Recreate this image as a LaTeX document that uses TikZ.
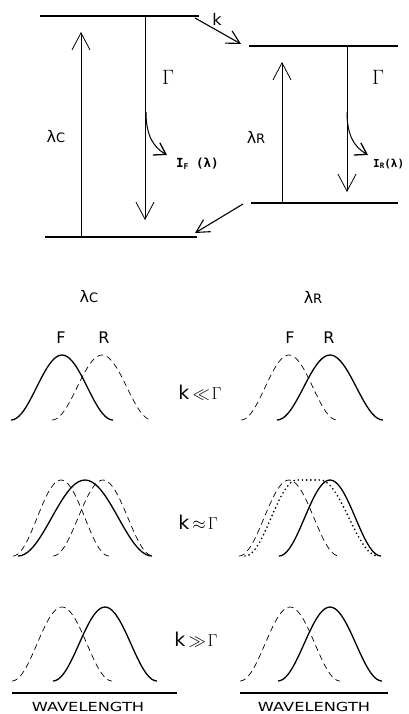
\documentclass[tikz,border=0pt]{standalone}
\usepackage{fontspec}
\setmainfont{DejaVu Sans}
\setmonofont{DejaVu Sans Mono}
\usetikzlibrary{arrows.meta}
\newcommand\bellcurve[5]{\draw[#1] plot[domain=-#3:#3, samples=41, smooth] ({#2+\x},{#4-#5*(1+cos(180*\x/#3))/2});}
\begin{document}
\begin{tikzpicture}[x=1pt,y=-1pt,
  level/.style={line width=1.5pt},
  trans/.style={line width=0.8pt,-{Straight Barb[length=17pt,width=18pt,line width=0.8pt]}},
  kin/.style={line width=1.1pt,-{Straight Barb[length=13pt,width=14pt,line width=1.1pt]}},
  emis/.style={line width=1pt,-{Straight Barb[length=11pt,width=14pt,line width=1.3pt]}},
  lbl/.style={font=\fontsize{16}{16}\selectfont, inner sep=0pt},
  gam/.style={font=\fontsize{21}{21}\selectfont, inner sep=0pt},
  rel/.style={font=\fontsize{19}{19}\selectfont, inner sep=0pt},
  intens/.style={font=\ttfamily\bfseries\fontsize{12.5}{12.5}\selectfont, inner sep=0pt, anchor=west},
  wl/.style={font=\fontsize{12.5}{12.5}\selectfont, inner sep=0pt},
  solidc/.style={line width=1.3pt},
  dashc/.style={line width=0.7pt, dash pattern=on 6pt off 4pt},
  dotc/.style={line width=1.9pt, line cap=round, dash pattern=on 0pt off 4.2pt},
  axis/.style={line width=1.2pt}]
\useasboundingbox (0,0) rectangle (408,714);
% ---- energy levels
\coordinate (LUa) at (40,16); \coordinate (LUb) at (199,16);
\coordinate (LLa) at (45,237); \coordinate (LLb) at (197,237);
\coordinate (RUa) at (249,46); \coordinate (RUb) at (398,46);
\coordinate (RLa) at (251,203); \coordinate (RLb) at (398,203);
\draw[level] (LUa) -- (LUb);
\draw[level] (LLa) -- (LLb);
\draw[level] (RUa) -- (RUb);
\draw[level] (RLa) -- (RLb);
% transitions
\coordinate (a1s) at (81,237); \coordinate (a1e) at (81,32);
\coordinate (a2s) at (145,16); \coordinate (a2e) at (145,220);
\coordinate (a3s) at (282,203); \coordinate (a3e) at (282,62);
\coordinate (a4s) at (347,46); \coordinate (a4e) at (347,192);
\draw[trans] (a1s) -- (a1e);
\draw[trans] (a2s) -- (a2e);
\draw[trans] (a3s) -- (a3e);
\draw[trans] (a4s) -- (a4e);
% k transfers
\coordinate (k1s) at (195,18); \coordinate (k1e) at (241,44);
\coordinate (k2s) at (243,204); \coordinate (k2e) at (195,233);
\draw[kin] (k1s) -- (k1e);
\draw[kin] (k2s) -- (k2e);
% emission curls
\coordinate (e1s) at (146,112); \coordinate (e1e) at (167,155);
\coordinate (e2s) at (347,112); \coordinate (e2e) at (368,155);
\draw[emis] (e1s) .. controls (146,135) and (153,147) .. (e1e);
\draw[emis] (e2s) .. controls (347,135) and (354,147) .. (e2e);
% labels top
\node[lbl] (klab) at (217,19) {k};
\node[gam] (g1) at (168,77) {$\Gamma$};
\node[gam] (g2) at (378,77) {$\Gamma$};
\node[lbl] (lc1) at (56,137) {λ{\fontsize{13}{13}\selectfont C}};
\node[lbl] (lr1) at (256,137) {λ{\fontsize{13}{13}\selectfont R}};
\node[intens] (if) at (176,164) {I{\fontsize{8}{8}\selectfont\raisebox{-1.5pt}{F}} (λ)};
\node[intens, font=\ttfamily\bfseries\fontsize{11}{11}\selectfont] (ir) at (373,164) {I{\fontsize{7.5}{7.5}\selectfont\raisebox{-1.5pt}{R}}(λ)};
% ---- spectra labels
\node[lbl] (lc2) at (89,297) {λ{\fontsize{13}{13}\selectfont C}};
\node[lbl] (lr2) at (313,297) {λ{\fontsize{13}{13}\selectfont R}};
\node[lbl] (F1) at (61,338) {F};
\node[lbl] (R1) at (104,338) {R};
\node[lbl] (F2) at (290,338) {F};
\node[lbl] (R2) at (329,338) {R};
\node[rel] (r1) at (200,393) {k\,$\ll\!\Gamma$};
\node[rel] (r2) at (198,522) {k\,$\approx\!\Gamma$};
\node[rel] (r3) at (196,640) {k\,$\gg\!\Gamma$};
% row 1
\bellcurve{solidc}{62}{51}{420}{65}
\bellcurve{dashc}{102}{50}{420}{65}
\bellcurve{dashc}{289}{48}{420}{65}
\bellcurve{solidc}{330}{53}{420}{65}
% row 2
\bellcurve{dashc}{61}{48}{556}{76}
\bellcurve{dashc}{103}{50}{556}{76}
\bellcurve{solidc}{85}{67}{556}{76}
\bellcurve{dashc}{289}{50}{556}{76}
\bellcurve{solidc}{330}{51}{556}{76}
\draw[dotc] plot[domain=-52:0, samples=30, smooth] ({297+\x},{556-76*(1+cos(180*\x/52))/2})
  -- plot[domain=0:58, samples=30, smooth] ({320+\x},{556-76*(1+cos(180*\x/58))/2});
% row 3
\bellcurve{dashc}{62}{50}{681}{74}
\bellcurve{solidc}{105}{52}{681}{74}
\bellcurve{dashc}{290}{50}{681}{74}
\bellcurve{solidc}{330}{52}{681}{74}
% axes
\coordinate (ax1a) at (12,693); \coordinate (ax1b) at (177,693);
\coordinate (ax2a) at (240,693); \coordinate (ax2b) at (388,693);
\draw[axis] (ax1a) -- (ax1b);
\draw[axis] (ax2a) -- (ax2b);
\node[wl] (w1) at (88,707) {\scalebox{1.3}[1]{WAVELENGTH}};
\node[wl] (w2) at (314,707) {\scalebox{1.3}[1]{WAVELENGTH}};
\end{tikzpicture}
\end{document}
